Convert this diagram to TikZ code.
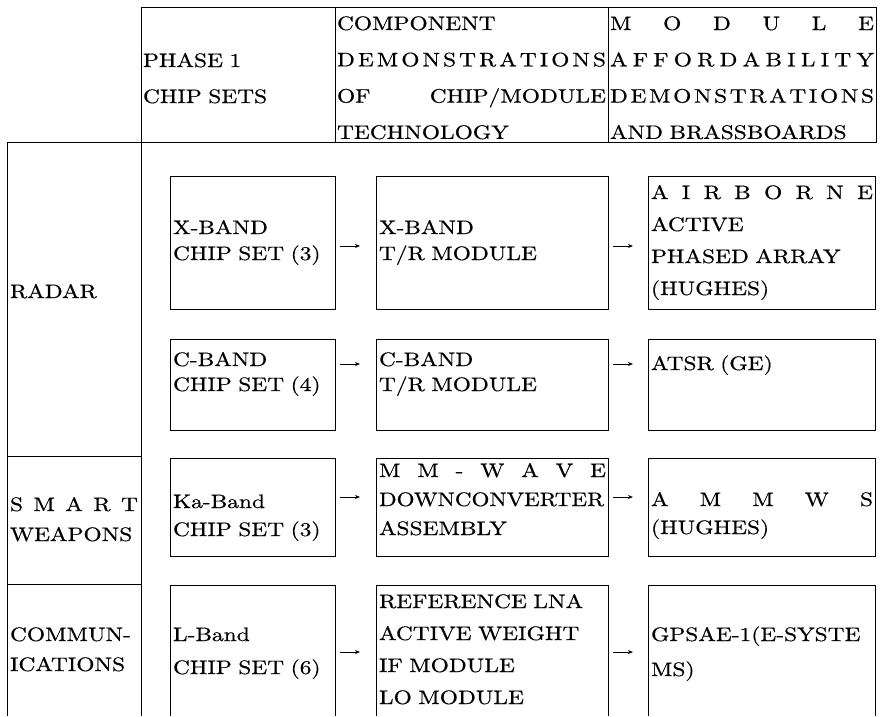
\documentclass[tikz,border=0pt]{standalone}
\usepackage{fontspec}
\usepackage{graphicx}
\setmainfont{lmroman10-regular.otf}[FakeStretch=1.2,FakeBold=0.5]
\usetikzlibrary{arrows.meta}
\def\spreadloop#1#2{#1\ifx\relax#2\else\hfil\expandafter\spreadloop\expandafter#2\fi}
\newcommand\spreadit[1]{\makebox[\linewidth][s]{\spreadloop#1\relax}}
\newcommand\txtfont[1]{\fontsize{19.5}{#1}\selectfont\spaceskip=0.5em\relax}
\begin{document}
\begin{tikzpicture}[x=1pt,y=-1pt,line width=0.9pt,
  cell/.style={draw,inner sep=0pt,outer sep=0pt,anchor=north west},
  opencell/.style={inner sep=0pt,outer sep=0pt,anchor=north west},
  txt/.style={anchor=base west,inner sep=0pt,outer sep=0pt,align=left,font={\txtfont{#1}}},
  txt/.default=27,
  arr/.style={-{Stealth[length=5pt,width=4pt]},line width=0.8pt}]
\useasboundingbox (0,0) rectangle (880,716);
% header
\node[cell,minimum width=194pt,minimum height=135pt] (h1) at (141,7) {};
\node[cell,minimum width=273pt,minimum height=135pt] (h2) at (335,7) {};
\node[cell,minimum width=268pt,minimum height=135pt] (h3) at (608,7) {};
% left column
\node[cell,minimum width=134pt,minimum height=314pt] (radar) at (7,142) {};
\node[cell,minimum width=134pt,minimum height=128pt] (smart) at (7,456) {};
\node[opencell,minimum width=134pt,minimum height=132pt] (comm) at (7,584) {};
\draw (comm.south west) |- (comm.north east) -- (comm.south east);
% row boxes
\node[cell,minimum width=165pt,minimum height=133pt] (x1) at (170,176) {};
\node[cell,minimum width=232pt,minimum height=133pt] (x2) at (376,176) {};
\node[cell,minimum width=227pt,minimum height=133pt] (x3) at (648,176) {};
\node[cell,minimum width=165pt,minimum height=91pt] (c1) at (170,339) {};
\node[cell,minimum width=232pt,minimum height=91pt] (c2) at (376,339) {};
\node[cell,minimum width=227pt,minimum height=91pt] (c3) at (648,339) {};
\node[cell,minimum width=165pt,minimum height=98pt] (k1) at (170,458) {};
\node[cell,minimum width=232pt,minimum height=98pt] (k2) at (376,458) {};
\node[cell,minimum width=227pt,minimum height=98pt] (k3) at (648,458) {};
\node[opencell,minimum width=165pt,minimum height=131pt] (l1) at (170,585) {};
\node[opencell,minimum width=232pt,minimum height=131pt] (l2) at (376,585) {};
\node[opencell,minimum width=227pt,minimum height=131pt] (l3) at (648,585) {};
\draw (l1.south west) |- (l1.north east) -- (l1.south east);
\draw (l2.south west) |- (l2.north east) -- (l2.south east);
\draw (l3.south west) |- (l3.north east) -- (l3.south east);
% header texts
\node[txt=36,text width=190pt] (th1) at (143,67) {PHASE 1\\CHIP SETS};
\node[txt=36.3,text width=269pt] (th2) at (337,30) {COMPONENT\\\spreadit{DEMONSTRATIONS}\\\makebox[\linewidth][s]{OF\hfill CHIP/MODULE}\\TECHNOLOGY};
\node[txt=36.3,text width=264pt] (th3) at (610,30) {\spreadit{MODULE}\\\spreadit{AFFORDABILITY}\\\spreadit{DEMONSTRATIONS}\\AND BRASSBOARDS};
% left texts
\node[txt,text width=128pt] (tradar) at (10,298) {RADAR};
\node[txt=30,text width=128pt] (tsmart) at (10,511) {\spreadit{SMART}\\WEAPONS};
\node[txt=30,text width=128pt] (tcomm) at (10,641) {COMMUN-\\ICATIONS};
% row texts
\node[txt=26,text width=160pt] (tx1) at (173,234) {X-BAND\\CHIP SET (3)};
\node[txt=26,text width=227pt] (tx2) at (379,234) {X-BAND\\T/R MODULE};
\node[txt=32,text width=222pt] (tx3) at (651,199) {\spreadit{AIRBORNE}\\ACTIVE\\PHASED ARRAY\\(HUGHES)};
\node[txt=25,text width=160pt] (tc1) at (173,366) {C-BAND\\CHIP SET (4)};
\node[txt=25,text width=227pt] (tc2) at (379,366) {C-BAND\\T/R MODULE};
\node[txt,text width=222pt] (tc3) at (651,370) {ATSR (GE)};
\node[txt=28,text width=160pt] (tk1) at (173,508) {Ka-Band\\CHIP SET (3)};
\node[txt=29,text width=227pt] (tk2) at (379,477) {\spreadit{MM-WAVE}\\\scalebox{0.985}[1]{DOWNCONVERTER}\\ASSEMBLY};
\node[txt=28,text width=222pt] (tk3) at (651,506) {\spreadit{AMMWS}\\(HUGHES)};
\node[txt=33,text width=160pt] (tl1) at (173,641) {L-Band\\CHIP SET (6)};
\node[txt=32,text width=227pt] (tl2) at (379,608) {REFERENCE LNA\\ACTIVE WEIGHT\\IF MODULE\\LO MODULE};
\node[txt=35,text width=222pt] (tl3) at (651,641) {GPSAE-1(E-SYSTE\\MS)};
% arrows
\draw[arr] ([xshift=5pt,yshift=-3.5pt]x1.east) -- ([xshift=-16pt,yshift=-3.5pt]x2.west);
\draw[arr] ([xshift=5pt,yshift=-3.5pt]x2.east) -- ([xshift=-15pt,yshift=-3.5pt]x3.west);
\draw[arr] ([xshift=5pt,yshift=20.5pt]c1.east) -- ([xshift=-16pt,yshift=20.5pt]c2.west);
\draw[arr] ([xshift=5pt,yshift=20.5pt]c2.east) -- ([xshift=-15pt,yshift=20.5pt]c3.west);
\draw[arr] ([xshift=5pt,yshift=10pt]k1.east) -- ([xshift=-16pt,yshift=10pt]k2.west);
\draw[arr] ([xshift=5pt,yshift=10pt]k2.east) -- ([xshift=-15pt,yshift=10pt]k3.west);
\draw[arr] ([xshift=5pt,yshift=-1.5pt]l1.east) -- ([xshift=-16pt,yshift=-1.5pt]l2.west);
\draw[arr] ([xshift=5pt,yshift=-1.5pt]l2.east) -- ([xshift=-15pt,yshift=-1.5pt]l3.west);
\end{tikzpicture}
\end{document}
